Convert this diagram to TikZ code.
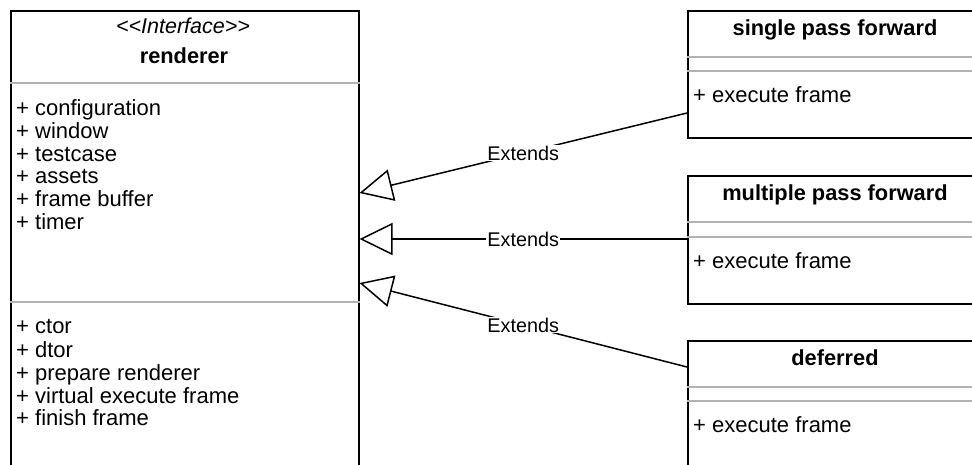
\documentclass[tikz,border=0pt]{standalone}
\usepackage{fontspec}
\setmainfont{Liberation Sans}
\usetikzlibrary{arrows.meta}

\tikzset{
  classbox/.style={draw=black, line width=1.5pt, fill=white, inner sep=0pt, anchor=north west},
  sepline/.style={draw=black!30, line width=2pt},
  member/.style={inner sep=0pt, anchor=base west, font=\fontsize{22}{23}\selectfont},
  title/.style={inner sep=0pt, anchor=base, font=\fontsize{21.8}{23}\selectfont\bfseries},
  stereo/.style={inner sep=0pt, anchor=base, font=\fontsize{21.5}{23}\selectfont\itshape},
  extends/.style={line width=1.5pt, -{Triangle[open, length=33pt, width=32pt, line width=1.5pt]}},
  lbl/.style={fill=white, inner sep=1pt, font=\fontsize{19.8}{23}\selectfont}
}

\begin{document}
\begin{tikzpicture}[x=1pt, y=-1pt]
\useasboundingbox (0,0) rectangle (972,464);
\clip (0,0) rectangle (972,464);

% interface class
\node[classbox, minimum width=348pt, minimum height=500pt] (rend) at (10,10) {};
\draw[sepline] (rend.west |- 0,83) -- (rend.east |- 0,83);
\draw[sepline] (rend.west |- 0,302) -- (rend.east |- 0,302);
\node[stereo] (rs) at (183,33) {<\kern0pt<Interface>\kern0pt>};
\node[title] (rt) at (184,63) {renderer};
\node[member] (a1) at (16,115) {+ configuration};
\node[member] (a2) at (16,138) {+ window};
\node[member] (a3) at (16,161) {+ testcase};
\node[member] (a4) at (16,183.5) {+ assets};
\node[member] (a5) at (16,206) {+ frame buffer};
\node[member] (a6) at (16,229) {+ timer};
\node[member] (m1) at (16,333) {+ ctor};
\node[member] (m2) at (16,357) {+ dtor};
\node[member] (m3) at (16,380) {+ prepare renderer};
\node[member] (m4) at (16,403) {+ virtual execute frame};
\node[member] (m5) at (16,425.5) {+ finish frame};

% implementing classes
\node[classbox, minimum width=296pt, minimum height=127pt] (sp) at (687,10) {};
\draw[sepline] (sp.west |- 0,57) -- (sp.east |- 0,57);
\draw[sepline] (sp.west |- 0,71) -- (sp.east |- 0,71);
\node[title] (spt) at (835,35) {single pass forward};
\node[member] (spm) at (693,102) {+ execute frame};

\node[classbox, minimum width=296pt, minimum height=128pt] (mp) at (687,175) {};
\draw[sepline] (mp.west |- 0,222) -- (mp.east |- 0,222);
\draw[sepline] (mp.west |- 0,237) -- (mp.east |- 0,237);
\node[title] (mpt) at (835,200) {multiple pass forward};
\node[member] (mpm) at (693,268) {+ execute frame};

\node[classbox, minimum width=296pt, minimum height=160pt] (df) at (687,340) {};
\draw[sepline] (df.west |- 0,387) -- (df.east |- 0,387);
\draw[sepline] (df.west |- 0,401) -- (df.east |- 0,401);
\node[title] (dft) at (835,365) {deferred};
\node[member] (dfm) at (693,432) {+ execute frame};

% generalization connectors
\coordinate (t1) at (rend.east |- 0,193);
\coordinate (t2) at (rend.east |- 0,239);
\coordinate (t3) at (rend.east |- 0,283);
\draw[extends] (sp.west |- 0,113) -- node[lbl] (e1) {Extends} (t1);
\draw[extends] (mp.west |- 0,239) -- node[lbl] (e2) {Extends} (t2);
\draw[extends] (df.west |- 0,367) -- node[lbl] (e3) {Extends} (t3);
\end{tikzpicture}
\end{document}
